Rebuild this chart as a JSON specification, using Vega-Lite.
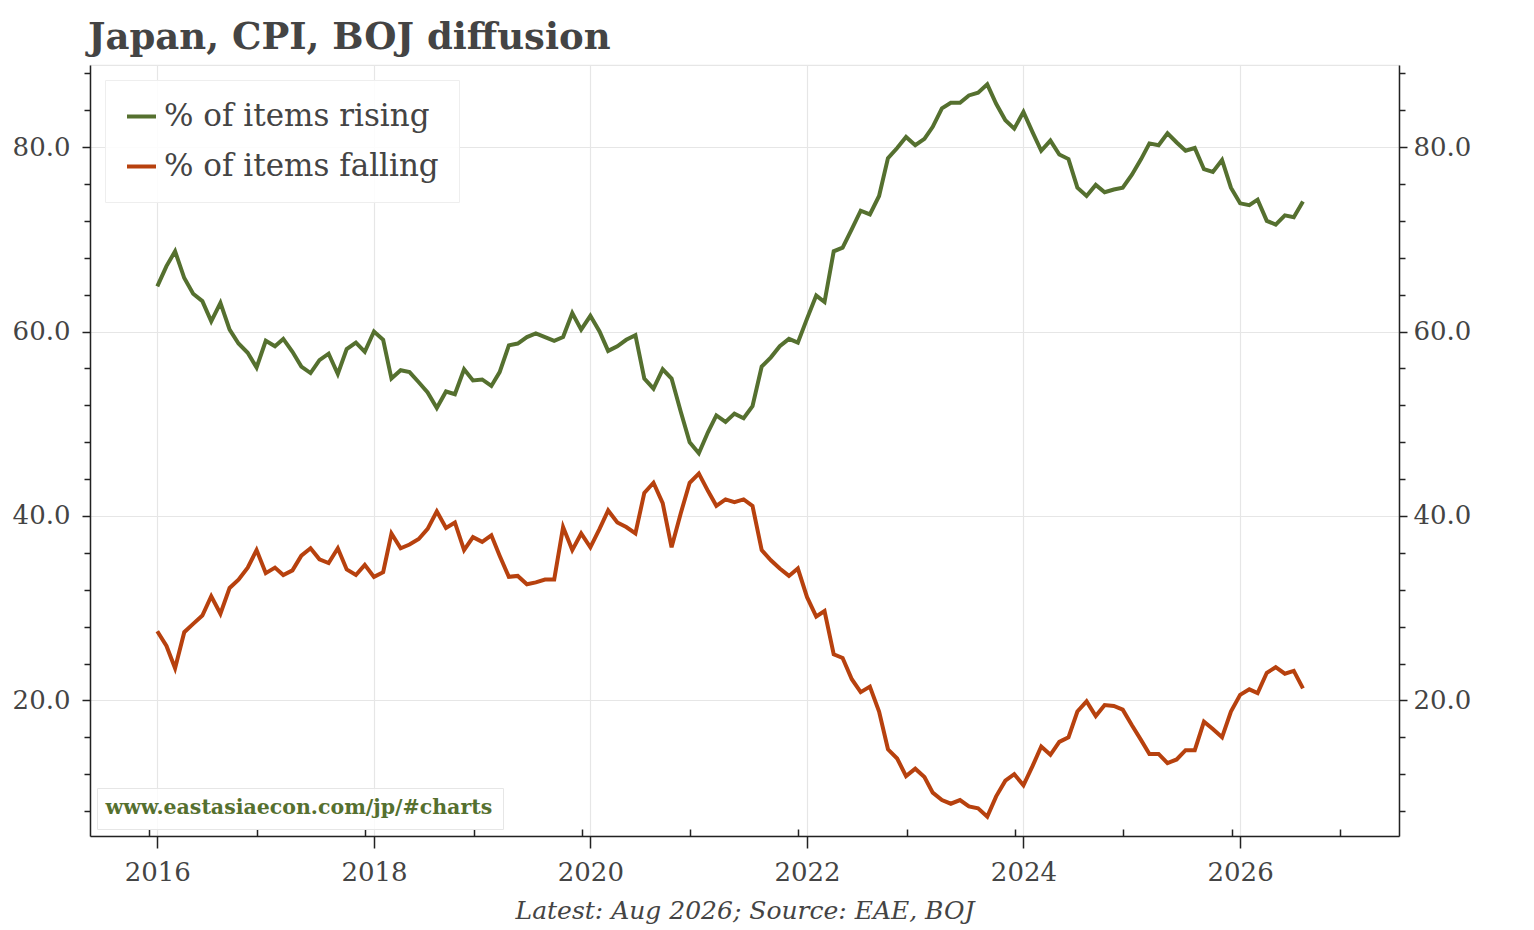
{
  "$schema": "https://vega.github.io/schema/vega-lite/v6.json",
  "width": 1309,
  "height": 771,
  "autosize": {"type": "none"},
  "padding": {"left": 90, "top": 65, "right": 135, "bottom": 94},
  "background": "white",
  "config": {
    "font": "DejaVu Serif",
    "view": {"stroke": "#e6e6e6", "strokeWidth": 1.2}
  },
  "title": {
    "text": "Japan, CPI, BOJ diffusion",
    "anchor": "start",
    "frame": "group",
    "dx": -2,
    "font": "DejaVu Serif",
    "fontSize": 37,
    "fontWeight": "bold",
    "color": "#444444",
    "offset": 8
  },
  "resolve": {"axis": {"x": "independent", "y": "independent"}},
  "layer": [
    {
      "data": {
        "values": [
          {"date": "2016-01-01", "series": "% of items rising", "value": 64.9},
          {"date": "2016-02-01", "series": "% of items rising", "value": 67.1},
          {"date": "2016-03-01", "series": "% of items rising", "value": 68.7},
          {"date": "2016-04-01", "series": "% of items rising", "value": 65.8},
          {"date": "2016-05-01", "series": "% of items rising", "value": 64.1},
          {"date": "2016-06-01", "series": "% of items rising", "value": 63.3},
          {"date": "2016-07-01", "series": "% of items rising", "value": 61.1},
          {"date": "2016-08-01", "series": "% of items rising", "value": 63.1},
          {"date": "2016-09-01", "series": "% of items rising", "value": 60.2},
          {"date": "2016-10-01", "series": "% of items rising", "value": 58.7},
          {"date": "2016-11-01", "series": "% of items rising", "value": 57.7},
          {"date": "2016-12-01", "series": "% of items rising", "value": 56.1},
          {"date": "2017-01-01", "series": "% of items rising", "value": 59.0},
          {"date": "2017-02-01", "series": "% of items rising", "value": 58.4},
          {"date": "2017-03-01", "series": "% of items rising", "value": 59.2},
          {"date": "2017-04-01", "series": "% of items rising", "value": 57.8},
          {"date": "2017-05-01", "series": "% of items rising", "value": 56.2},
          {"date": "2017-06-01", "series": "% of items rising", "value": 55.5},
          {"date": "2017-07-01", "series": "% of items rising", "value": 56.9},
          {"date": "2017-08-01", "series": "% of items rising", "value": 57.6},
          {"date": "2017-09-01", "series": "% of items rising", "value": 55.4},
          {"date": "2017-10-01", "series": "% of items rising", "value": 58.1},
          {"date": "2017-11-01", "series": "% of items rising", "value": 58.8},
          {"date": "2017-12-01", "series": "% of items rising", "value": 57.8},
          {"date": "2018-01-01", "series": "% of items rising", "value": 60.0},
          {"date": "2018-02-01", "series": "% of items rising", "value": 59.1},
          {"date": "2018-03-01", "series": "% of items rising", "value": 54.9},
          {"date": "2018-04-01", "series": "% of items rising", "value": 55.8},
          {"date": "2018-05-01", "series": "% of items rising", "value": 55.6},
          {"date": "2018-06-01", "series": "% of items rising", "value": 54.5},
          {"date": "2018-07-01", "series": "% of items rising", "value": 53.4},
          {"date": "2018-08-01", "series": "% of items rising", "value": 51.7},
          {"date": "2018-09-01", "series": "% of items rising", "value": 53.5},
          {"date": "2018-10-01", "series": "% of items rising", "value": 53.2},
          {"date": "2018-11-01", "series": "% of items rising", "value": 55.9},
          {"date": "2018-12-01", "series": "% of items rising", "value": 54.7},
          {"date": "2019-01-01", "series": "% of items rising", "value": 54.8},
          {"date": "2019-02-01", "series": "% of items rising", "value": 54.1},
          {"date": "2019-03-01", "series": "% of items rising", "value": 55.6},
          {"date": "2019-04-01", "series": "% of items rising", "value": 58.5},
          {"date": "2019-05-01", "series": "% of items rising", "value": 58.7},
          {"date": "2019-06-01", "series": "% of items rising", "value": 59.4},
          {"date": "2019-07-01", "series": "% of items rising", "value": 59.8},
          {"date": "2019-08-01", "series": "% of items rising", "value": 59.4},
          {"date": "2019-09-01", "series": "% of items rising", "value": 59.0},
          {"date": "2019-10-01", "series": "% of items rising", "value": 59.4},
          {"date": "2019-11-01", "series": "% of items rising", "value": 62.0},
          {"date": "2019-12-01", "series": "% of items rising", "value": 60.2},
          {"date": "2020-01-01", "series": "% of items rising", "value": 61.7},
          {"date": "2020-02-01", "series": "% of items rising", "value": 60.0},
          {"date": "2020-03-01", "series": "% of items rising", "value": 57.9},
          {"date": "2020-04-01", "series": "% of items rising", "value": 58.4},
          {"date": "2020-05-01", "series": "% of items rising", "value": 59.1},
          {"date": "2020-06-01", "series": "% of items rising", "value": 59.6},
          {"date": "2020-07-01", "series": "% of items rising", "value": 54.9},
          {"date": "2020-08-01", "series": "% of items rising", "value": 53.8},
          {"date": "2020-09-01", "series": "% of items rising", "value": 55.9},
          {"date": "2020-10-01", "series": "% of items rising", "value": 54.9},
          {"date": "2020-11-01", "series": "% of items rising", "value": 51.3},
          {"date": "2020-12-01", "series": "% of items rising", "value": 48.0},
          {"date": "2021-01-01", "series": "% of items rising", "value": 46.8},
          {"date": "2021-02-01", "series": "% of items rising", "value": 49.1},
          {"date": "2021-03-01", "series": "% of items rising", "value": 50.9},
          {"date": "2021-04-01", "series": "% of items rising", "value": 50.2},
          {"date": "2021-05-01", "series": "% of items rising", "value": 51.1},
          {"date": "2021-06-01", "series": "% of items rising", "value": 50.6},
          {"date": "2021-07-01", "series": "% of items rising", "value": 51.9},
          {"date": "2021-08-01", "series": "% of items rising", "value": 56.2},
          {"date": "2021-09-01", "series": "% of items rising", "value": 57.2},
          {"date": "2021-10-01", "series": "% of items rising", "value": 58.4},
          {"date": "2021-11-01", "series": "% of items rising", "value": 59.2},
          {"date": "2021-12-01", "series": "% of items rising", "value": 58.8},
          {"date": "2022-01-01", "series": "% of items rising", "value": 61.4},
          {"date": "2022-02-01", "series": "% of items rising", "value": 63.9},
          {"date": "2022-03-01", "series": "% of items rising", "value": 63.2},
          {"date": "2022-04-01", "series": "% of items rising", "value": 68.7},
          {"date": "2022-05-01", "series": "% of items rising", "value": 69.1},
          {"date": "2022-06-01", "series": "% of items rising", "value": 71.1},
          {"date": "2022-07-01", "series": "% of items rising", "value": 73.1},
          {"date": "2022-08-01", "series": "% of items rising", "value": 72.7},
          {"date": "2022-09-01", "series": "% of items rising", "value": 74.7},
          {"date": "2022-10-01", "series": "% of items rising", "value": 78.8},
          {"date": "2022-11-01", "series": "% of items rising", "value": 79.9},
          {"date": "2022-12-01", "series": "% of items rising", "value": 81.1},
          {"date": "2023-01-01", "series": "% of items rising", "value": 80.2},
          {"date": "2023-02-01", "series": "% of items rising", "value": 80.9},
          {"date": "2023-03-01", "series": "% of items rising", "value": 82.2},
          {"date": "2023-04-01", "series": "% of items rising", "value": 84.2},
          {"date": "2023-05-01", "series": "% of items rising", "value": 84.8},
          {"date": "2023-06-01", "series": "% of items rising", "value": 84.8},
          {"date": "2023-07-01", "series": "% of items rising", "value": 85.6},
          {"date": "2023-08-01", "series": "% of items rising", "value": 85.9},
          {"date": "2023-09-01", "series": "% of items rising", "value": 86.8},
          {"date": "2023-10-01", "series": "% of items rising", "value": 84.7},
          {"date": "2023-11-01", "series": "% of items rising", "value": 82.9},
          {"date": "2023-12-01", "series": "% of items rising", "value": 82.0},
          {"date": "2024-01-01", "series": "% of items rising", "value": 83.8},
          {"date": "2024-02-01", "series": "% of items rising", "value": 81.6},
          {"date": "2024-03-01", "series": "% of items rising", "value": 79.6},
          {"date": "2024-04-01", "series": "% of items rising", "value": 80.7},
          {"date": "2024-05-01", "series": "% of items rising", "value": 79.2},
          {"date": "2024-06-01", "series": "% of items rising", "value": 78.7},
          {"date": "2024-07-01", "series": "% of items rising", "value": 75.6},
          {"date": "2024-08-01", "series": "% of items rising", "value": 74.7},
          {"date": "2024-09-01", "series": "% of items rising", "value": 75.9},
          {"date": "2024-10-01", "series": "% of items rising", "value": 75.1},
          {"date": "2024-11-01", "series": "% of items rising", "value": 75.4},
          {"date": "2024-12-01", "series": "% of items rising", "value": 75.6},
          {"date": "2025-01-01", "series": "% of items rising", "value": 77.0},
          {"date": "2025-02-01", "series": "% of items rising", "value": 78.7},
          {"date": "2025-03-01", "series": "% of items rising", "value": 80.4},
          {"date": "2025-04-01", "series": "% of items rising", "value": 80.2},
          {"date": "2025-05-01", "series": "% of items rising", "value": 81.5},
          {"date": "2025-06-01", "series": "% of items rising", "value": 80.5},
          {"date": "2025-07-01", "series": "% of items rising", "value": 79.6},
          {"date": "2025-08-01", "series": "% of items rising", "value": 79.9},
          {"date": "2025-09-01", "series": "% of items rising", "value": 77.6},
          {"date": "2025-10-01", "series": "% of items rising", "value": 77.3},
          {"date": "2025-11-01", "series": "% of items rising", "value": 78.6},
          {"date": "2025-12-01", "series": "% of items rising", "value": 75.6},
          {"date": "2026-01-01", "series": "% of items rising", "value": 73.9},
          {"date": "2026-02-01", "series": "% of items rising", "value": 73.7},
          {"date": "2026-03-01", "series": "% of items rising", "value": 74.3},
          {"date": "2026-04-01", "series": "% of items rising", "value": 72.0},
          {"date": "2026-05-01", "series": "% of items rising", "value": 71.6},
          {"date": "2026-06-01", "series": "% of items rising", "value": 72.6},
          {"date": "2026-07-01", "series": "% of items rising", "value": 72.4},
          {"date": "2026-08-01", "series": "% of items rising", "value": 74.1},
          {"date": "2016-01-01", "series": "% of items falling", "value": 27.5},
          {"date": "2016-02-01", "series": "% of items falling", "value": 25.9},
          {"date": "2016-03-01", "series": "% of items falling", "value": 23.5},
          {"date": "2016-04-01", "series": "% of items falling", "value": 27.4},
          {"date": "2016-05-01", "series": "% of items falling", "value": 28.3},
          {"date": "2016-06-01", "series": "% of items falling", "value": 29.2},
          {"date": "2016-07-01", "series": "% of items falling", "value": 31.3},
          {"date": "2016-08-01", "series": "% of items falling", "value": 29.4},
          {"date": "2016-09-01", "series": "% of items falling", "value": 32.2},
          {"date": "2016-10-01", "series": "% of items falling", "value": 33.1},
          {"date": "2016-11-01", "series": "% of items falling", "value": 34.4},
          {"date": "2016-12-01", "series": "% of items falling", "value": 36.3},
          {"date": "2017-01-01", "series": "% of items falling", "value": 33.8},
          {"date": "2017-02-01", "series": "% of items falling", "value": 34.4},
          {"date": "2017-03-01", "series": "% of items falling", "value": 33.6},
          {"date": "2017-04-01", "series": "% of items falling", "value": 34.1},
          {"date": "2017-05-01", "series": "% of items falling", "value": 35.7},
          {"date": "2017-06-01", "series": "% of items falling", "value": 36.5},
          {"date": "2017-07-01", "series": "% of items falling", "value": 35.3},
          {"date": "2017-08-01", "series": "% of items falling", "value": 34.9},
          {"date": "2017-09-01", "series": "% of items falling", "value": 36.5},
          {"date": "2017-10-01", "series": "% of items falling", "value": 34.2},
          {"date": "2017-11-01", "series": "% of items falling", "value": 33.6},
          {"date": "2017-12-01", "series": "% of items falling", "value": 34.7},
          {"date": "2018-01-01", "series": "% of items falling", "value": 33.4},
          {"date": "2018-02-01", "series": "% of items falling", "value": 33.9},
          {"date": "2018-03-01", "series": "% of items falling", "value": 38.1},
          {"date": "2018-04-01", "series": "% of items falling", "value": 36.5},
          {"date": "2018-05-01", "series": "% of items falling", "value": 36.9},
          {"date": "2018-06-01", "series": "% of items falling", "value": 37.5},
          {"date": "2018-07-01", "series": "% of items falling", "value": 38.6},
          {"date": "2018-08-01", "series": "% of items falling", "value": 40.5},
          {"date": "2018-09-01", "series": "% of items falling", "value": 38.7},
          {"date": "2018-10-01", "series": "% of items falling", "value": 39.3},
          {"date": "2018-11-01", "series": "% of items falling", "value": 36.3},
          {"date": "2018-12-01", "series": "% of items falling", "value": 37.7},
          {"date": "2019-01-01", "series": "% of items falling", "value": 37.2},
          {"date": "2019-02-01", "series": "% of items falling", "value": 37.9},
          {"date": "2019-03-01", "series": "% of items falling", "value": 35.7},
          {"date": "2019-04-01", "series": "% of items falling", "value": 33.4},
          {"date": "2019-05-01", "series": "% of items falling", "value": 33.5},
          {"date": "2019-06-01", "series": "% of items falling", "value": 32.6},
          {"date": "2019-07-01", "series": "% of items falling", "value": 32.8},
          {"date": "2019-08-01", "series": "% of items falling", "value": 33.1},
          {"date": "2019-09-01", "series": "% of items falling", "value": 33.1},
          {"date": "2019-10-01", "series": "% of items falling", "value": 38.8},
          {"date": "2019-11-01", "series": "% of items falling", "value": 36.3},
          {"date": "2019-12-01", "series": "% of items falling", "value": 38.1},
          {"date": "2020-01-01", "series": "% of items falling", "value": 36.6},
          {"date": "2020-02-01", "series": "% of items falling", "value": 38.6},
          {"date": "2020-03-01", "series": "% of items falling", "value": 40.6},
          {"date": "2020-04-01", "series": "% of items falling", "value": 39.3},
          {"date": "2020-05-01", "series": "% of items falling", "value": 38.8},
          {"date": "2020-06-01", "series": "% of items falling", "value": 38.1},
          {"date": "2020-07-01", "series": "% of items falling", "value": 42.5},
          {"date": "2020-08-01", "series": "% of items falling", "value": 43.6},
          {"date": "2020-09-01", "series": "% of items falling", "value": 41.4},
          {"date": "2020-10-01", "series": "% of items falling", "value": 36.6},
          {"date": "2020-11-01", "series": "% of items falling", "value": 40.3},
          {"date": "2020-12-01", "series": "% of items falling", "value": 43.6},
          {"date": "2021-01-01", "series": "% of items falling", "value": 44.6},
          {"date": "2021-02-01", "series": "% of items falling", "value": 42.7},
          {"date": "2021-03-01", "series": "% of items falling", "value": 41.1},
          {"date": "2021-04-01", "series": "% of items falling", "value": 41.8},
          {"date": "2021-05-01", "series": "% of items falling", "value": 41.5},
          {"date": "2021-06-01", "series": "% of items falling", "value": 41.8},
          {"date": "2021-07-01", "series": "% of items falling", "value": 41.1},
          {"date": "2021-08-01", "series": "% of items falling", "value": 36.3},
          {"date": "2021-09-01", "series": "% of items falling", "value": 35.2},
          {"date": "2021-10-01", "series": "% of items falling", "value": 34.3},
          {"date": "2021-11-01", "series": "% of items falling", "value": 33.5},
          {"date": "2021-12-01", "series": "% of items falling", "value": 34.3},
          {"date": "2022-01-01", "series": "% of items falling", "value": 31.2},
          {"date": "2022-02-01", "series": "% of items falling", "value": 29.1},
          {"date": "2022-03-01", "series": "% of items falling", "value": 29.7},
          {"date": "2022-04-01", "series": "% of items falling", "value": 25.0},
          {"date": "2022-05-01", "series": "% of items falling", "value": 24.6},
          {"date": "2022-06-01", "series": "% of items falling", "value": 22.3},
          {"date": "2022-07-01", "series": "% of items falling", "value": 20.9},
          {"date": "2022-08-01", "series": "% of items falling", "value": 21.5},
          {"date": "2022-09-01", "series": "% of items falling", "value": 18.8},
          {"date": "2022-10-01", "series": "% of items falling", "value": 14.7},
          {"date": "2022-11-01", "series": "% of items falling", "value": 13.7},
          {"date": "2022-12-01", "series": "% of items falling", "value": 11.8},
          {"date": "2023-01-01", "series": "% of items falling", "value": 12.6},
          {"date": "2023-02-01", "series": "% of items falling", "value": 11.7},
          {"date": "2023-03-01", "series": "% of items falling", "value": 10.0},
          {"date": "2023-04-01", "series": "% of items falling", "value": 9.2},
          {"date": "2023-05-01", "series": "% of items falling", "value": 8.8},
          {"date": "2023-06-01", "series": "% of items falling", "value": 9.2},
          {"date": "2023-07-01", "series": "% of items falling", "value": 8.5},
          {"date": "2023-08-01", "series": "% of items falling", "value": 8.3},
          {"date": "2023-09-01", "series": "% of items falling", "value": 7.4},
          {"date": "2023-10-01", "series": "% of items falling", "value": 9.6},
          {"date": "2023-11-01", "series": "% of items falling", "value": 11.3},
          {"date": "2023-12-01", "series": "% of items falling", "value": 12.0},
          {"date": "2024-01-01", "series": "% of items falling", "value": 10.8},
          {"date": "2024-02-01", "series": "% of items falling", "value": 12.9},
          {"date": "2024-03-01", "series": "% of items falling", "value": 15.0},
          {"date": "2024-04-01", "series": "% of items falling", "value": 14.1},
          {"date": "2024-05-01", "series": "% of items falling", "value": 15.5},
          {"date": "2024-06-01", "series": "% of items falling", "value": 16.0},
          {"date": "2024-07-01", "series": "% of items falling", "value": 18.8},
          {"date": "2024-08-01", "series": "% of items falling", "value": 19.9},
          {"date": "2024-09-01", "series": "% of items falling", "value": 18.3},
          {"date": "2024-10-01", "series": "% of items falling", "value": 19.5},
          {"date": "2024-11-01", "series": "% of items falling", "value": 19.4},
          {"date": "2024-12-01", "series": "% of items falling", "value": 19.0},
          {"date": "2025-01-01", "series": "% of items falling", "value": 17.3},
          {"date": "2025-02-01", "series": "% of items falling", "value": 15.7},
          {"date": "2025-03-01", "series": "% of items falling", "value": 14.2},
          {"date": "2025-04-01", "series": "% of items falling", "value": 14.2},
          {"date": "2025-05-01", "series": "% of items falling", "value": 13.2},
          {"date": "2025-06-01", "series": "% of items falling", "value": 13.6},
          {"date": "2025-07-01", "series": "% of items falling", "value": 14.6},
          {"date": "2025-08-01", "series": "% of items falling", "value": 14.6},
          {"date": "2025-09-01", "series": "% of items falling", "value": 17.7},
          {"date": "2025-10-01", "series": "% of items falling", "value": 16.9},
          {"date": "2025-11-01", "series": "% of items falling", "value": 16.0},
          {"date": "2025-12-01", "series": "% of items falling", "value": 18.8},
          {"date": "2026-01-01", "series": "% of items falling", "value": 20.6},
          {"date": "2026-02-01", "series": "% of items falling", "value": 21.2},
          {"date": "2026-03-01", "series": "% of items falling", "value": 20.8},
          {"date": "2026-04-01", "series": "% of items falling", "value": 23.0},
          {"date": "2026-05-01", "series": "% of items falling", "value": 23.6},
          {"date": "2026-06-01", "series": "% of items falling", "value": 22.9},
          {"date": "2026-07-01", "series": "% of items falling", "value": 23.2},
          {"date": "2026-08-01", "series": "% of items falling", "value": 21.3}
        ]
      },
      "mark": {"type": "line", "strokeWidth": 4},
      "encoding": {
        "x": {
          "field": "date",
          "type": "temporal",
          "scale": {
            "type": "utc",
            "domain": [
              {"year": 2015, "month": 5, "date": 19, "utc": true},
              {"year": 2027, "month": 6, "date": 21, "utc": true}
            ]
          },
          "axis": {
            "values": [
              {"year": 2016, "month": 1, "date": 1, "utc": true},
              {"year": 2018, "month": 1, "date": 1, "utc": true},
              {"year": 2020, "month": 1, "date": 1, "utc": true},
              {"year": 2022, "month": 1, "date": 1, "utc": true},
              {"year": 2024, "month": 1, "date": 1, "utc": true},
              {"year": 2026, "month": 1, "date": 1, "utc": true}
            ],
            "format": "%Y",
            "grid": true,
            "gridColor": "#e6e6e6",
            "gridWidth": 1.2,
            "domainColor": "#222222",
            "domainWidth": 1.5,
            "tickColor": "#222222",
            "tickWidth": 1.5,
            "tickSize": 12,
            "labelFont": "DejaVu Serif",
            "labelFontSize": 26,
            "labelColor": "#444444",
            "labelPadding": 11,
            "labelFlush": false,
            "title": "Latest: Aug 2026; Source: EAE, BOJ",
            "titleFont": "DejaVu Serif",
            "titleFontSize": 25,
            "titleFontStyle": "italic",
            "titleFontWeight": "normal",
            "titleColor": "#444444",
            "titlePadding": 13
          }
        },
        "y": {
          "field": "value",
          "type": "quantitative",
          "scale": {"domain": [5.3, 88.9], "nice": false, "zero": false},
          "axis": {
            "orient": "left",
            "values": [20, 40, 60, 80],
            "format": ".1f",
            "grid": true,
            "gridColor": "#e6e6e6",
            "gridWidth": 1.2,
            "domainColor": "#222222",
            "domainWidth": 1.5,
            "tickColor": "#222222",
            "tickWidth": 1.5,
            "tickSize": 8,
            "labelFont": "DejaVu Serif",
            "labelFontSize": 26,
            "labelColor": "#444444",
            "labelPadding": 12,
            "title": null
          }
        },
        "color": {
          "field": "series",
          "type": "nominal",
          "scale": {
            "domain": ["% of items rising", "% of items falling"],
            "range": ["#55702f", "#b7410e"]
          },
          "legend": {
            "orient": "top-left",
            "offset": 15,
            "title": null,
            "symbolType": "stroke",
            "symbolSize": 841,
            "symbolStrokeWidth": 4,
            "labelFont": "DejaVu Serif",
            "labelFontSize": 31,
            "labelColor": "#444444",
            "labelOffset": 6,
            "labelLimit": 600,
            "rowPadding": 18,
            "padding": 20,
            "fillColor": "rgba(255,255,255,0.85)",
            "strokeColor": "#eeeeee"
          }
        }
      }
    },
    {
      "data": {"values": []},
      "mark": "point",
      "encoding": {
        "x": {
          "field": "date",
          "type": "temporal",
          "axis": {
            "orient": "bottom",
            "values": [
              {"year": 2015, "month": 12, "date": 3, "utc": true},
              {"year": 2016, "month": 12, "date": 3, "utc": true},
              {"year": 2017, "month": 12, "date": 3, "utc": true},
              {"year": 2018, "month": 12, "date": 3, "utc": true},
              {"year": 2019, "month": 12, "date": 3, "utc": true},
              {"year": 2020, "month": 12, "date": 3, "utc": true},
              {"year": 2021, "month": 12, "date": 3, "utc": true},
              {"year": 2022, "month": 12, "date": 3, "utc": true},
              {"year": 2023, "month": 12, "date": 3, "utc": true},
              {"year": 2024, "month": 12, "date": 3, "utc": true},
              {"year": 2025, "month": 12, "date": 3, "utc": true},
              {"year": 2026, "month": 12, "date": 3, "utc": true}
            ],
            "labels": false,
            "grid": false,
            "domain": false,
            "tickColor": "#222222",
            "tickWidth": 1.5,
            "tickSize": -7,
            "title": null
          }
        },
        "y": {
          "field": "value",
          "type": "quantitative",
          "axis": {
            "orient": "left",
            "values": [8, 12, 16, 24, 28, 32, 36, 44, 48, 52, 56, 64, 68, 72, 76, 84, 88],
            "labels": false,
            "grid": false,
            "domain": false,
            "tickColor": "#222222",
            "tickWidth": 1.5,
            "tickSize": 6,
            "title": null
          }
        }
      }
    },
    {
      "data": {"values": []},
      "mark": "point",
      "encoding": {
        "y": {
          "field": "value",
          "type": "quantitative",
          "axis": {
            "orient": "right",
            "values": [20, 40, 60, 80],
            "format": ".1f",
            "grid": false,
            "domainColor": "#222222",
            "domainWidth": 1.5,
            "tickColor": "#222222",
            "tickWidth": 1.5,
            "tickSize": 8,
            "labelFont": "DejaVu Serif",
            "labelFontSize": 26,
            "labelColor": "#444444",
            "labelPadding": 6,
            "title": null
          }
        }
      }
    },
    {
      "data": {"values": []},
      "mark": "point",
      "encoding": {
        "y": {
          "field": "value",
          "type": "quantitative",
          "axis": {
            "orient": "right",
            "values": [8, 12, 16, 24, 28, 32, 36, 44, 48, 52, 56, 64, 68, 72, 76, 84, 88],
            "labels": false,
            "grid": false,
            "domain": false,
            "tickColor": "#222222",
            "tickWidth": 1.5,
            "tickSize": 6,
            "title": null
          }
        }
      }
    },
    {
      "data": {"values": [{"site": "www.eastasiaecon.com/jp/#charts"}]},
      "mark": {"type": "point", "opacity": 0},
      "encoding": {
        "shape": {
          "field": "site",
          "type": "nominal",
          "legend": {
            "orient": "bottom-left",
            "offset": 7,
            "title": null,
            "symbolSize": 0,
            "symbolOpacity": 0,
            "symbolStrokeWidth": 0,
            "labelOffset": -22,
            "labelFont": "DejaVu Serif",
            "labelFontWeight": "bold",
            "labelFontSize": 20.5,
            "labelColor": "#55702f",
            "labelLimit": 600,
            "padding": 10,
            "fillColor": "rgba(255,255,255,0.8)",
            "strokeColor": "#e6e6e6"
          }
        }
      }
    }
  ]
}
